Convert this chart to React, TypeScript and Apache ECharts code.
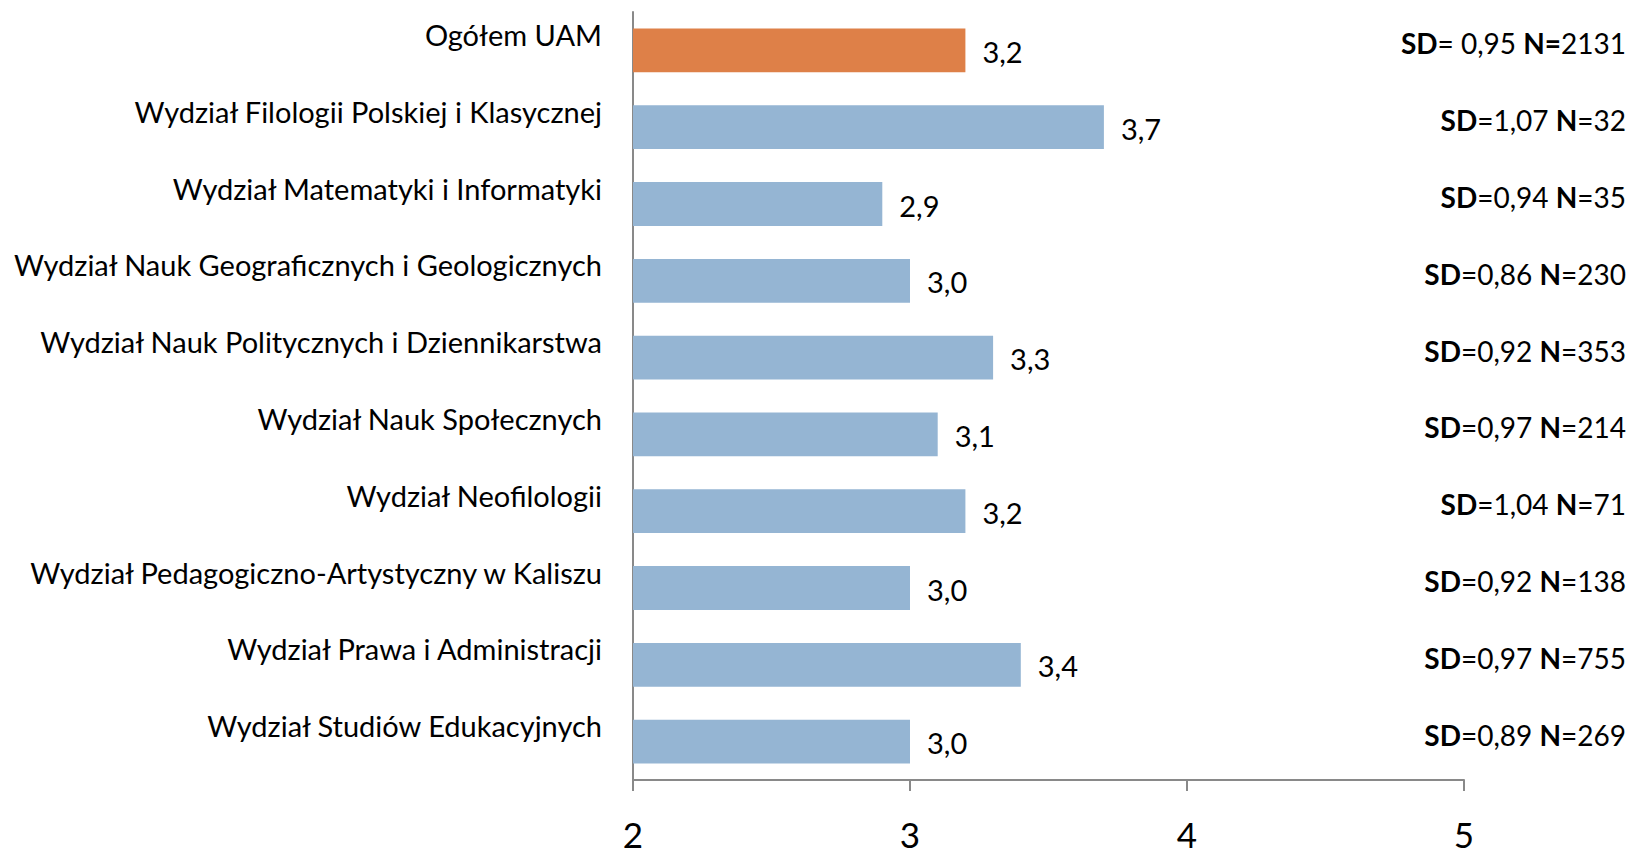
import React, { useEffect, useRef } from "react";
import * as echarts from "echarts";

const categories = [
  "Ogółem UAM",
  "Wydział Filologii Polskiej i Klasycznej",
  "Wydział Matematyki i Informatyki",
  "Wydział Nauk Geograficznych i Geologicznych",
  "Wydział Nauk Politycznych i Dziennikarstwa",
  "Wydział Nauk Społecznych",
  "Wydział Neofilologii",
  "Wydział Pedagogiczno-Artystyczny w Kaliszu",
  "Wydział Prawa i Administracji",
  "Wydział Studiów Edukacyjnych",
];
const means = [3.2, 3.7, 2.9, 3.0, 3.3, 3.1, 3.2, 3.0, 3.4, 3.0];
const sdValues = ["0,95", "1,07", "0,94", "0,86", "0,92", "0,97", "1,04", "0,92", "0,97", "0,89"];
const nValues = [2131, 32, 35, 230, 353, 214, 71, 138, 755, 269];
const xTicks = [2, 3, 4, 5];

const FONT = "Lato";
const ORANGE = "#DE8048";
const BLUE = "#95B5D3";

export default function App() {
  const ref = useRef<HTMLDivElement>(null);
  useEffect(() => {
    if (!ref.current) return;
    const chart = echarts.init(ref.current, undefined, { renderer: "svg" });
    const sdLabels = categories.map((_, i) =>
      i === 0
        ? `{b|SD}{r|= ${sdValues[i]} }{b|N=}{r|${nValues[i]}}`
        : `{b|SD}{r|=${sdValues[i]} }{b|N}{r|=${nValues[i]}}`
    );
    chart.setOption({
      animation: false,
      backgroundColor: "#ffffff",
      textStyle: { fontFamily: FONT },
      grid: { left: 633, right: 167, top: 12, bottom: 73, containLabel: false },
      xAxis: {
        type: "value",
        min: xTicks[0],
        max: xTicks[xTicks.length - 1],
        interval: 1,
        splitLine: { show: false },
        axisLine: { show: true, lineStyle: { color: "#898989", width: 2 } },
        axisTick: { show: true, length: 11, lineStyle: { color: "#898989", width: 2 } },
        axisLabel: { fontSize: 35, color: "#000", margin: 36, fontFamily: FONT },
      },
      yAxis: [
        {
          type: "category",
          data: categories,
          inverse: true,
          axisLine: { show: true, lineStyle: { color: "#898989", width: 2 } },
          axisTick: { show: false },
          axisLabel: {
            fontSize: 29,
            color: "#000",
            margin: 31,
            verticalAlign: "bottom",
            lineHeight: 32,
            fontFamily: FONT,
          },
        },
        {
          type: "category",
          data: sdLabels,
          inverse: true,
          position: "right",
          axisLine: { show: false },
          axisTick: { show: false },
          axisLabel: {
            fontSize: 28,
            color: "#000",
            align: "right",
            margin: 162,
            verticalAlign: "bottom",
            lineHeight: 14,
            fontFamily: FONT,
            rich: {
              b: { fontWeight: "bold", fontSize: 28, lineHeight: 14, fontFamily: FONT, color: "#000" },
              r: { fontSize: 28, lineHeight: 14, fontFamily: FONT, color: "#000" },
            },
          },
        },
      ],
      series: [
        {
          type: "bar",
          yAxisIndex: 0,
          data: means.map((v, i) => ({
            value: v,
            itemStyle: { color: i === 0 ? ORANGE : BLUE },
          })),
          barCategoryGap: "43%",
          label: {
            show: true,
            position: "right",
            distance: 17,
            offset: [0, 1],
            fontSize: 29,
            color: "#000",
            fontFamily: FONT,
            formatter: (p: any) => p.value.toFixed(1).replace(".", ","),
          },
        },
      ],
    });
    return () => chart.dispose();
  }, []);
  return (
    <div
      ref={ref}
      style={{ position: "fixed", left: 0, top: 0, width: 1631, height: 853 }}
    />
  );
}
